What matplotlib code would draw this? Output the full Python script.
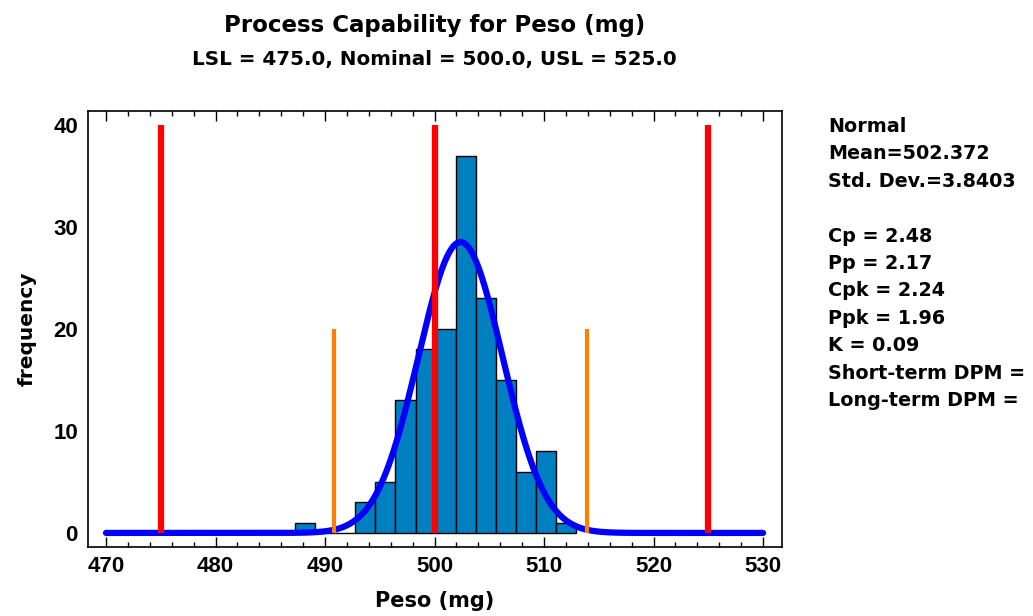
import numpy as np
import matplotlib
matplotlib.use("Agg")
import matplotlib.pyplot as plt

# ---- data ----
bin_centers = [488.20, 490.03, 491.86, 493.69, 495.52, 497.35, 499.18,
               501.01, 502.84, 504.67, 506.50, 508.33, 510.16, 511.99]
counts = [1, 0, 0, 3, 5, 13, 18, 20, 37, 23, 15, 6, 8, 1]
bin_width = 1.83
mean = 502.372
std_dev = 3.8403
spec_limits = [475.0, 500.0, 525.0]       # LSL, Nominal, USL
sigma_limits = [490.85, 513.89]           # mean -/+ 3 sigma
spec_height = 40
sigma_height = 20
curve_range = [470, 530]
x_ticks = [470, 480, 490, 500, 510, 520, 530]
y_ticks = [0, 10, 20, 30, 40]
stats_lines = ["Normal", "Mean=502.372", "Std. Dev.=3.8403", "",
               "Cp = 2.48", "Pp = 2.17", "Cpk = 2.24", "Ppk = 1.96",
               "K = 0.09", "Short-term DPM =", "Long-term DPM ="]

WIDE = ['DejaVu Sans']
TICKF = ['Liberation Sans', 'DejaVu Sans']
plt.rcParams['font.family'] = WIDE
plt.rcParams['font.weight'] = 'bold'

W, H = 1033, 616
fig = plt.figure(figsize=(W / 100, H / 100), dpi=100)
ax = fig.add_axes([87.7 / W, 1 - 546.7 / H, (781.7 - 87.7) / W, (546.7 - 111) / H])

ax.bar(bin_centers, counts, width=bin_width, color='#0080C0',
       edgecolor='black', linewidth=1.0, zorder=2)

n_total = sum(counts)
xs = np.linspace(curve_range[0], curve_range[1], 600)
pdf = n_total * bin_width / (std_dev * np.sqrt(2 * np.pi)) * \
    np.exp(-0.5 * ((xs - mean) / std_dev) ** 2)
ax.plot(xs, pdf, color='#0000FF', linewidth=4.5, solid_capstyle='round', zorder=3)

ax.vlines(spec_limits, 0, spec_height, colors='#FF0000', linewidth=4.5, zorder=4)
ax.vlines(sigma_limits, 0, sigma_height, colors='#FF8000', linewidth=3.0, zorder=4)

ax.set_xlim(468.33, 531.7)
ax.set_ylim(-1.35, 41.37)
ax.set_xticks(x_ticks)
ax.set_xticks(np.arange(470, 531, 2), minor=True)
ax.set_yticks(y_ticks)
ax.tick_params(axis='x', which='major', direction='in', length=7, width=1,
               top=True, pad=7)
ax.tick_params(axis='x', which='minor', direction='in', length=3.5, width=1, top=True)
ax.tick_params(axis='y', which='both', length=0, pad=7)
for lab in ax.get_xticklabels() + ax.get_yticklabels():
    lab.set_fontweight('bold')
    lab.set_family(TICKF)
    lab.set_fontsize(16)
for s in ax.spines.values():
    s.set_linewidth(1.2)

ax.set_xlabel("Peso (mg)", fontsize=15, fontweight='bold', labelpad=10)
ax.set_ylabel("frequency", fontsize=14.5, fontweight='bold', labelpad=12)

fig.text(434.7 / W, 1 - 31.7 / H, "Process Capability for Peso (mg)", ha='center',
         va='baseline', fontsize=16.5, fontweight='bold')
fig.text(434.7 / W, 1 - 65 / H, "LSL = 475.0, Nominal = 500.0, USL = 525.0", ha='center',
         va='baseline', fontsize=14.3, fontweight='bold')

base0 = 132.0
step = 27.4
for i, line in enumerate(stats_lines):
    fig.text(828 / W, 1 - (base0 + i * step) / H, line, ha='left', va='baseline',
             fontsize=13.8, fontweight='bold')

fig.savefig("out.png", dpi=100)
